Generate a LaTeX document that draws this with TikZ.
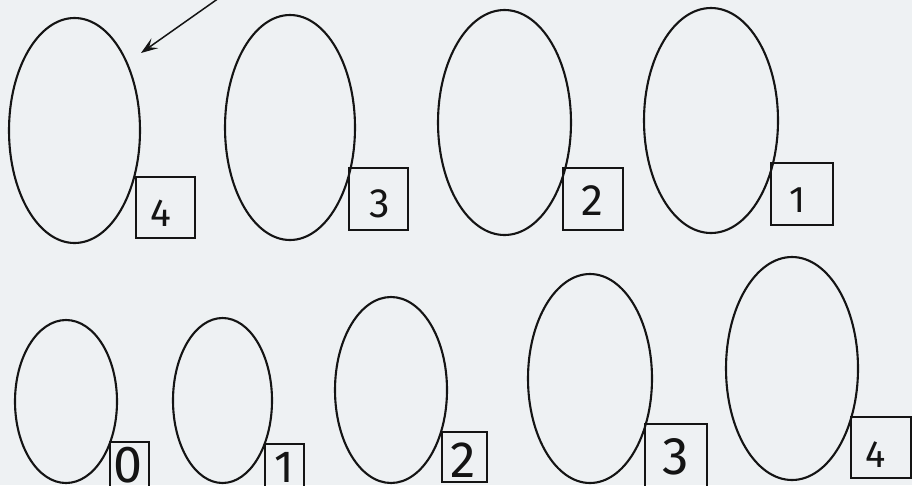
\documentclass[tikz,border=0pt]{standalone}
\usepackage{fontspec}
\newfontfamily\digfont{Fira Sans}
\usetikzlibrary{shapes.geometric,arrows.meta}
\definecolor{paper}{RGB}{238,241,243}
\definecolor{ink}{RGB}{20,20,20}
\tikzset{
  egg/.style={ellipse, draw=ink, line width=2.1pt, inner sep=0pt},
  numbox/.style={rectangle, draw=ink, line width=1.9pt, inner sep=0pt},
  dig/.style={inner sep=0pt, text=ink, font=\digfont\fontsize{#1}{#1}\selectfont},
  pointer/.style={draw=ink, line width=1.5pt, -{Stealth[length=17pt,width=12pt,inset=7pt]}}
}
\begin{document}
\begin{tikzpicture}[x=1pt,y=-1pt]
\fill[paper] (0,0) rectangle (912,485);
\useasboundingbox (0,0) rectangle (912,485);
% top row
\node[egg, minimum width=131pt, minimum height=225pt] (et4) at (74.5,130.5) {};
\node[egg, minimum width=130pt, minimum height=225pt] (et3) at (290,127.5) {};
\node[egg, minimum width=133pt, minimum height=225pt] (et2) at (504.5,122.5) {};
\node[egg, minimum width=134pt, minimum height=225pt] (et1) at (711,120.5) {};
\node[numbox, minimum width=59pt, minimum height=61pt] (bt4) at (165.5,207.5) {};
\node[numbox, minimum width=59pt, minimum height=62pt] (bt3) at (378.5,199) {};
\node[numbox, minimum width=60pt, minimum height=62pt] (bt2) at (593,199) {};
\node[numbox, minimum width=62pt, minimum height=62pt] (bt1) at (802,194) {};
\node[dig=39] (dt4) at (161,213.5) {4};
\node[dig=41] (dt3) at (380,203.5) {3};
\node[dig=44] (dt2) at (592.5,201) {2};
\node[dig=37] (dt1) at (797,200.5) {1};
% bottom row
\node[egg, minimum width=102pt, minimum height=163pt] (eb0) at (66,401.5) {};
\node[egg, minimum width=99pt, minimum height=165pt] (eb1) at (222.5,400.5) {};
\node[egg, minimum width=112pt, minimum height=186pt] (eb2) at (391,390) {};
\node[egg, minimum width=124pt, minimum height=209pt] (eb3) at (590,378.5) {};
\node[egg, minimum width=132pt, minimum height=223pt] (eb4) at (792,368.5) {};
\node[numbox, minimum width=39pt, minimum height=56pt] (bb0) at (129.5,470) {};
\node[numbox, minimum width=39pt, minimum height=56pt] (bb1) at (284.5,472) {};
\node[numbox, minimum width=45pt, minimum height=50pt] (bb2) at (464.5,457) {};
\node[numbox, minimum width=62pt, minimum height=66pt] (bb3) at (676,457) {};
\node[numbox, minimum width=60pt, minimum height=61pt] (bb4) at (881,447.5) {};
\node[dig=52] (db0) at (128,465) {0};
\node[dig=45] (db1) at (284,467.5) {1};
\node[dig=51] (db2) at (463,460.5) {2};
\node[dig=53] (db3) at (676,456.5) {3};
\node[dig=38] (db4) at (876,455) {4};
% arrow
\coordinate (arrowstart) at (219,-2);
\coordinate (arrowend) at (141,53);
\draw[pointer] (arrowstart) -- (arrowend);
\end{tikzpicture}
\end{document}
